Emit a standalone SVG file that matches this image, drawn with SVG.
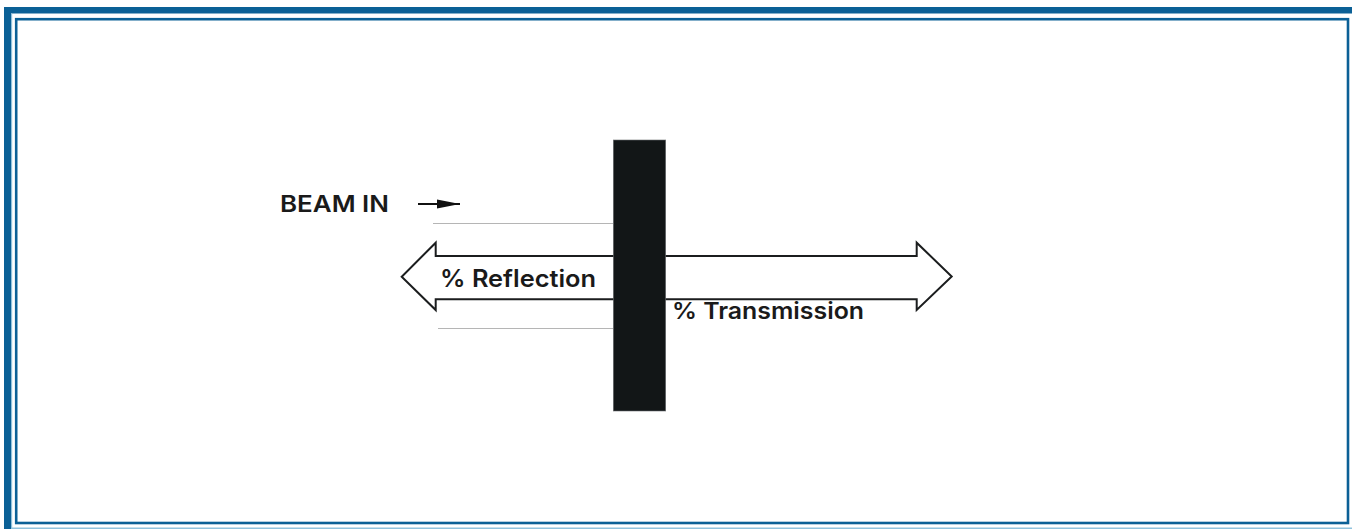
<svg xmlns="http://www.w3.org/2000/svg" width="1352" height="529" viewBox="0 0 1352 529">
<defs>
<style>
.lbl{font-family:Inter,"Liberation Sans",Arial,sans-serif;font-weight:600;fill:#1a1a1a}
.hollow{fill:#ffffff;stroke:#1b1d1e;stroke-width:2;stroke-linejoin:miter}
.guide{stroke:#b5b5b5;stroke-width:1.2;fill:none}
</style>
<marker id="ah" markerWidth="23" markerHeight="10" refX="23" refY="5" orient="auto" markerUnits="userSpaceOnUse">
<path d="M0,0.5 L23,5 L0,9.5 Z" fill="#111"/>
</marker>
</defs>
<rect width="1352" height="529" fill="#ffffff"/>
<g id="frame">
<rect x="4" y="7" width="1348" height="6.5" fill="#0b6096"/>
<rect x="4" y="7" width="7" height="522" fill="#0b6096"/>
<rect x="11" y="13.5" width="1.2" height="515.5" fill="#8fc1dc"/>
<rect x="12" y="527.5" width="1340" height="1.5" fill="#8fc1dc"/>
<rect x="16.2" y="19.2" width="1331.8" height="503.8" fill="none" stroke="#0b6096" stroke-width="2.6"/>
</g>
<g id="connectors">
<line class="guide" x1="433" y1="223.5" x2="613" y2="223.5"/>
<line class="guide" x1="438" y1="328.5" x2="613" y2="328.5"/>
<line x1="418" y1="204" x2="460" y2="204" stroke="#111" stroke-width="2" marker-end="url(#ah)"/>
</g>
<g id="reflection-arrow">
<path class="hollow" d="M614,256 L435.7,256 L435.7,242.7 L401.7,276.7 L435.7,310 L435.7,299.3 L614,299.3"/>
<text class="lbl" x="440" y="287" font-size="24" textLength="156" lengthAdjust="spacingAndGlyphs">% Reflection</text>
</g>
<g id="transmission-arrow">
<path class="hollow" d="M664,256 L916.7,256 L916.7,242.7 L951.7,276.5 L916.7,310 L916.7,299.3 L664,299.3"/>
<text class="lbl" x="672" y="318.5" font-size="23" textLength="192" lengthAdjust="spacingAndGlyphs">% Transmission</text>
</g>
<g id="filter">
<rect x="613.3" y="140" width="52.4" height="271" fill="#121617" stroke="#6a6d6e" stroke-width="0.6"/>
</g>
<g id="beam-in">
<text class="lbl" x="280" y="212" font-size="23" textLength="109" lengthAdjust="spacingAndGlyphs">BEAM IN</text>
</g>
</svg>
